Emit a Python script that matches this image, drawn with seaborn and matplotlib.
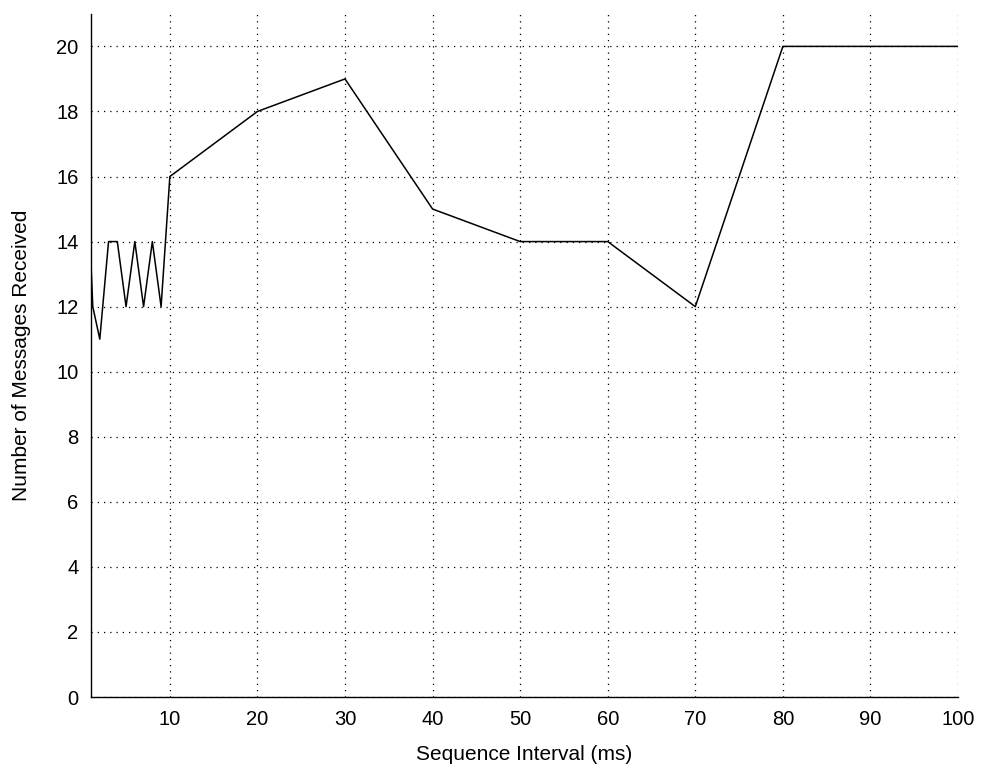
import matplotlib
matplotlib.use("Agg")
import matplotlib.pyplot as plt
import seaborn as sns
import pandas as pd

interval_ms = [1, 1.2, 2, 3, 4, 5, 6, 7, 8, 9, 10, 20, 30, 40, 50, 60, 70, 80, 90, 100]
messages = [13.3, 12, 11, 14, 14, 12, 14, 12, 14, 12, 16, 18, 19, 15, 14, 14, 12, 20, 20, 20]
x_ticks = [10, 20, 30, 40, 50, 60, 70, 80, 90, 100]
y_ticks = [0, 2, 4, 6, 8, 10, 12, 14, 16, 18, 20]

df = pd.DataFrame({"x": interval_ms, "y": messages})

sns.set_style("white")
plt.rcParams["font.family"] = ["Liberation Sans", "DejaVu Sans"]
plt.rcParams["text.color"] = "black"
plt.rcParams["axes.labelcolor"] = "black"

fig = plt.figure(figsize=(9.82, 7.7), dpi=100)
ax = fig.add_axes([0.0927, 0.0948, 0.8829, 0.8872])
sns.lineplot(data=df, x="x", y="y", ax=ax, color="black", linewidth=1.1, estimator=None, sort=False)

ax.set_xlim(1, 100)
ax.set_ylim(0, 21)
ax.set_xticks(x_ticks)
ax.set_yticks(y_ticks)
ax.grid(True, color="black", linestyle=(0, (1, 4)), linewidth=0.9)
for s in ["top", "right"]:
    ax.spines[s].set_visible(False)
for s in ["left", "bottom"]:
    ax.spines[s].set_color("black")
    ax.spines[s].set_linewidth(1.0)
ax.tick_params(direction="in", length=6, width=1, colors="black", labelsize=14.5)
ax.tick_params(axis="x", pad=9)
ax.tick_params(axis="y", pad=9)
ax.set_xlabel("Sequence Interval (ms)", fontsize=15, labelpad=12, color="black")
ax.set_ylabel("Number of Messages Received", fontsize=15, labelpad=18, color="black")

fig.savefig("out.png", dpi=100, facecolor="white")
